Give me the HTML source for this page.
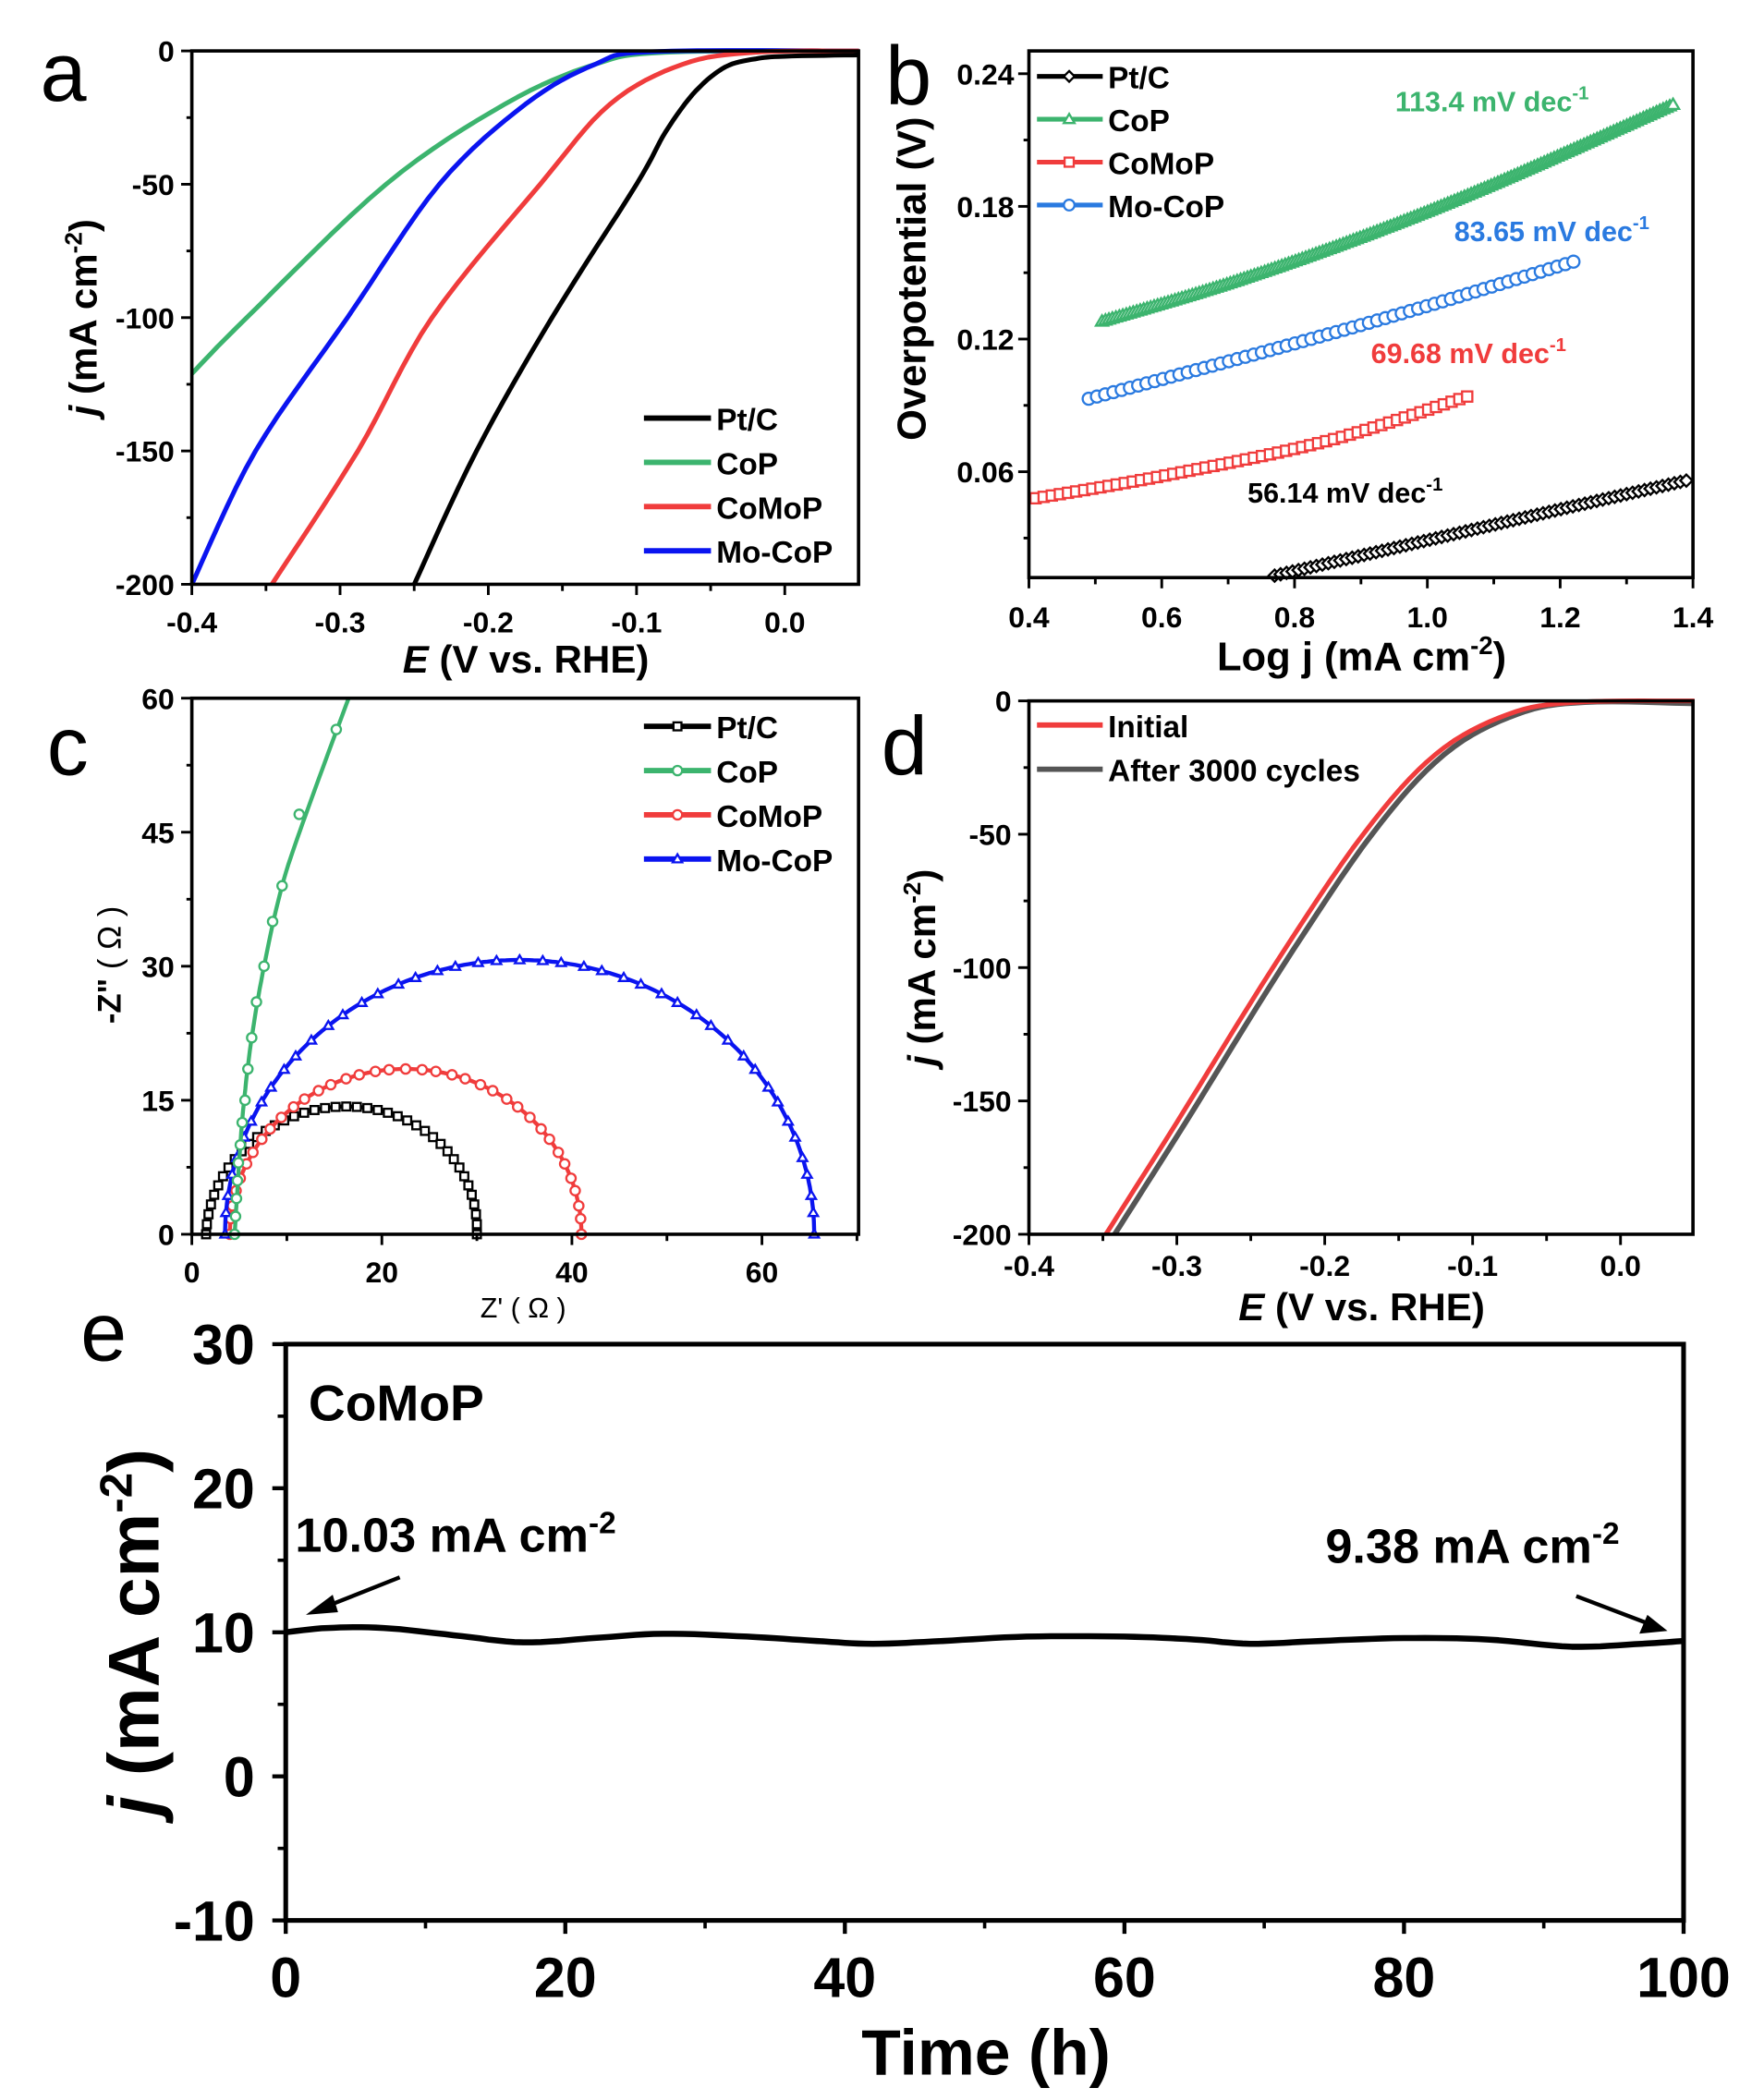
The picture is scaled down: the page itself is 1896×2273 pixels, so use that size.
<!DOCTYPE html>
<html><head><meta charset="utf-8"><style>
html,body{margin:0;padding:0;background:#fff}
svg{display:block}
text{font-family:"Liberation Sans",Arial,sans-serif}
</style></head><body>
<svg id="s" width="1896" height="2273" viewBox="0 0 1306 1567" preserveAspectRatio="none" xmlns="http://www.w3.org/2000/svg">
<rect width="1306" height="1567" fill="#fff"/>
<g id="g"></g>
</svg>
<script>
const NS="http://www.w3.org/2000/svg",G=document.getElementById('g');
function el(t,a,txt){const e=document.createElementNS(NS,t);for(const k in a)e.setAttribute(k,a[k]);if(txt!==undefined)e.textContent=txt;G.appendChild(e);return e;}
function txt(x,y,s,size,opt={}){return el('text',Object.assign({x:x,y:y,'font-size':size,'font-weight':opt.w||'bold','text-anchor':opt.a||'middle',fill:opt.f||'#000'},opt.t?{transform:opt.t}:{}),s);}
function line(x1,y1,x2,y2,c,w){el('line',{x1,y1,x2,y2,stroke:c||'#000','stroke-width':w||2});}
function path(pts,c,w){el('path',{d:'M'+pts.map(p=>p[0].toFixed(1)+','+p[1].toFixed(1)).join('L'),fill:'none',stroke:c,'stroke-width':w,'stroke-linejoin':'round'});}
function interp(pts,n){
 const out=[];for(let i=0;i<pts.length-1;i++){const p0=pts[Math.max(i-1,0)],p1=pts[i],p2=pts[i+1],p3=pts[Math.min(i+2,pts.length-1)];
 for(let k=0;k<n;k++){const t=k/n,t2=t*t,t3=t2*t;const f=(a,b,c,d)=>0.5*((2*b)+(-a+c)*t+(2*a-5*b+4*c-d)*t2+(-a+3*b-3*c+d)*t3);out.push([f(p0[0],p1[0],p2[0],p3[0]),f(p0[1],p1[1],p2[1],p3[1])]);}}
 out.push(pts[pts.length-1]);return out;}
function frame(x0,y0,x1,y1){el('rect',{x:x0,y:y0,width:x1-x0,height:y1-y0,fill:'none',stroke:'#000','stroke-width':2.5});}
function mark(m,x,y,c,r){const a={fill:'#fff',stroke:c,'stroke-width':1.6};
 if(m=='circ')el('circle',Object.assign({cx:x,cy:y,r:r},a));
 else if(m=='sq')el('rect',Object.assign({x:x-r*0.85,y:y-r*0.85,width:r*1.7,height:r*1.7},a));
 else if(m=='tri')el('polygon',Object.assign({points:`${x},${y-r} ${x-r},${y+r*0.7} ${x+r},${y+r*0.7}`},a));
 else el('polygon',Object.assign({points:`${x},${y-r} ${x+r},${y} ${x},${y+r} ${x-r},${y}`},a));}

// ---------- Panel a ----------
{const X=E=>143+(E+0.4)*1105,Y=j=>38-j*1.99;
 const cl=s=>s.map(p=>[X(p[0]),Y(p[1])]);
 const draw=(d,c)=>{path(interp(cl(d),8).filter(p=>p[1]<=436&&p[0]>=143),c,3.5);};
 draw([[-0.4,-121],[-0.363,-100],[-0.269,-50],[-0.189,-20],[-0.128,-5],[-0.08,-0.5],[0.05,0]],'#3cb46e');
 draw([[-0.4,-200],[-0.357,-150],[-0.295,-100],[-0.233,-50],[-0.175,-20],[-0.128,-5],[-0.09,-0.3],[0.05,0]],'#0a14f0');
 draw([[-0.346,-200],[-0.288,-150],[-0.238,-100],[-0.165,-50],[-0.118,-20],[-0.069,-5],[-0.02,-0.5],[0.05,0]],'#f03c3c');
 draw([[-0.25,-200],[-0.208,-150],[-0.157,-100],[-0.1,-50],[-0.08,-30],[-0.06,-15],[-0.04,-6],[-0.02,-3],[0.0,-2],[0.05,-1.5]],'#000');
 frame(143,38,640,436);
 for(let i=0;i<=4;i++){const x=X(-0.4+i*0.1);line(x,436,x,444);txt(x,472,(i==4?'0.0':(-0.4+i*0.1).toFixed(1)),22);}
 for(let i=0;i<4;i++){const x=X(-0.35+i*0.1);line(x,436,x,441);}
 [0,-50,-100,-150,-200].forEach(v=>{const y=Y(v);line(135,y,143,y);txt(130,y+8,String(v),22,{a:'end'});});
 [-25,-75,-125,-175].forEach(v=>{const y=Y(v);line(139,y,143,y);});
 el('text',{x:392,y:502,'font-size':29,'font-weight':'bold','text-anchor':'middle'}).innerHTML='<tspan font-style="italic">E</tspan> (V vs. RHE)';
 el('text',{x:0,y:0,'font-size':29,'font-weight':'bold','text-anchor':'middle',transform:'translate(72,237) rotate(-90)'}).innerHTML='<tspan font-style="italic">j</tspan> (mA cm<tspan font-size="18" dy="-11">-2</tspan><tspan dy="11">)</tspan>';
 txt(30,75,'a',62,{w:'normal',a:'start'});
 [['Pt/C','#000'],['CoP','#3cb46e'],['CoMoP','#f03c3c'],['Mo-CoP','#0a14f0']].forEach((l,i)=>{const y=312+i*33;line(480,y,530,y,l[1],4);txt(534,y+9,l[0],23,{a:'start'});});
}
// ---------- Panel b ----------
{const X=L=>767+(L-0.4)*495,Y=v=>55+(0.24-v)*1650;
 const series=[
  {c:'#3cb46e',m:'tri',pts:[[0.51,0.128],[0.7,0.145],[0.9,0.166],[1.1,0.19],[1.37,0.226]],n:170},
  {c:'#2a7ae0',m:'circ',pts:[[0.49,0.093],[0.8,0.118],[1.0,0.135],[1.22,0.155]],n:60},
  {c:'#f03c3c',m:'sq',pts:[[0.41,0.048],[0.6,0.058],[0.85,0.074],[1.06,0.094]],n:55},
  {c:'#000',m:'dia',pts:[[0.77,0.013],[1.0,0.029],[1.2,0.043],[1.39,0.056]],n:70}];
 series.forEach(s=>{const P=interp(s.pts.map(p=>[X(p[0]),Y(p[1])]),30);path(P,s.c,2);
  let len=[0];for(let i=1;i<P.length;i++)len.push(len[i-1]+Math.hypot(P[i][0]-P[i-1][0],P[i][1]-P[i-1][1]));
  const T=len[len.length-1];let j=0;
  for(let k=0;k<s.n;k++){const d=T*k/(s.n-1);while(j<P.length-2&&len[j+1]<d)j++;const f=(d-len[j])/((len[j+1]-len[j])||1);const x=P[j][0]+(P[j+1][0]-P[j][0])*f,y=P[j][1]+(P[j+1][1]-P[j][1])*f;mark(s.m,x,y,s.c,4.5);}
 });
 frame(767,38,1262,431);
 for(let i=0;i<=5;i++){const x=X(0.4+i*0.2);line(x,431,x,439);txt(x,468,(0.4+i*0.2).toFixed(1),22);}
 for(let i=0;i<5;i++){const x=X(0.5+i*0.2);line(x,431,x,436);}
 [0.24,0.18,0.12,0.06].forEach(v=>{const y=Y(v);line(759,y,767,y);txt(756,y+8,v.toFixed(2),22,{a:'end'});});
 [0.21,0.15,0.09,0.03].forEach(v=>{const y=Y(v);line(763,y,767,y);});
 el('text',{x:1015,y:500,'font-size':30,'font-weight':'bold','text-anchor':'middle'}).innerHTML='Log j (mA cm<tspan font-size="19" dy="-12">-2</tspan><tspan dy="12">)</tspan>';
 txt(0,0,'Overpotential (V)',30,{t:'translate(690,208) rotate(-90)'});
 txt(660,78,'b',62,{w:'normal',a:'start'});
 const lab=(x,y,s,c)=>{el('text',{x,y,'font-size':21,'font-weight':'bold','text-anchor':'start',fill:c}).innerHTML=s+' mV dec<tspan font-size="14" dy="-9">-1</tspan>';};
 lab(1040,83,'113.4','#3cb46e');lab(1084,180,'83.65','#2a7ae0');lab(1022,271,'69.68','#f03c3c');lab(930,375,'56.14','#000');
 [['Pt/C','#000','dia'],['CoP','#3cb46e','tri'],['CoMoP','#f03c3c','sq'],['Mo-CoP','#2a7ae0','circ']].forEach((l,i)=>{const y=57+i*32;line(773,y,822,y,l[1],3.5);mark(l[2],797,y,l[1],4);txt(826,y+9,l[0],23,{a:'start'});});
}
// ---------- Panel c ----------
{const X=z=>143+z*7.083,Y=v=>921-v*6.667;
 const arc=(x0,x1,h,n,skew)=>{const cx=(x0+x1)/2,rx=(x1-x0)/2,o=[];for(let i=0;i<=n;i++){const t=Math.PI*(1-i/n);o.push([X(cx+rx*Math.cos(t)+skew*Math.sin(t)),Y(h*Math.sin(t))]);}return o;};
 const sets=[[1.5,30,14.3,'#000','sq',40,0.5],[4,41,18.5,'#f03c3c','circ',36,0],[3.5,65.5,30.7,'#0a14f0','tri',44,0]];
 sets.forEach(s=>{const P=arc(s[0],s[1],s[2],200,s[6]);path(P,s[3],3);
  for(let i=0;i<=s[5];i++){const k=Math.round(200*i/s[5]);mark(s[4],P[k][0],P[k][1],s[3],3.5);}});
 const cop=[[4.5,0],[4.8,5],[5.1,10],[5.5,15],[6.3,22],[7.6,30],[9.5,39],[12,47],[16.5,60]];
 path(interp(cop.map(p=>[X(p[0]),Y(p[1])]),10),'#3cb46e',3);
 [[4.5,0],[4.6,2],[4.7,4],[4.8,6],[4.9,8],[5.1,10],[5.3,12.5],[5.6,15],[5.9,18.5],[6.3,22],[6.8,26],[7.6,30],[8.5,35],[9.5,39],[11.3,47],[15.2,56.5]].forEach(p=>mark('circ',X(p[0]),Y(p[1]),'#3cb46e',3.5));
 frame(143,521,640,921);
 [0,20,40,60].forEach(v=>{const x=X(v);line(x,921,x,929);txt(x,957,String(v),22);});
 [10,30,50,70].forEach(v=>{const x=X(v);line(x,921,x,926);});
 [0,15,30,45,60].forEach(v=>{const y=Y(v);line(135,y,143,y);txt(130,y+8,String(v),22,{a:'end'});});
 [7.5,22.5,37.5,52.5].forEach(v=>{const y=Y(v);line(139,y,143,y);});
 txt(390,983,"Z' ( Ω )",21,{w:'normal'});
 el('text',{x:0,y:0,'font-size':24,'text-anchor':'middle',transform:'translate(90,720) rotate(-90)'}).innerHTML='<tspan font-weight="bold">-Z"</tspan> ( Ω )';
 txt(35,578,'c',62,{w:'normal',a:'start'});
 [['Pt/C','#000','sq'],['CoP','#3cb46e','circ'],['CoMoP','#f03c3c','circ'],['Mo-CoP','#0a14f0','tri']].forEach((l,i)=>{const y=542+i*33;line(480,y,530,y,l[1],4);mark(l[2],505,y,l[1],3.5);txt(534,y+9,l[0],23,{a:'start'});});
}
// ---------- Panel d ----------
{const X=E=>767+(E+0.4)*1102.5,Y=j=>523-j*1.99;
 const ini=[[-0.348,-200],[-0.3,-158],[-0.235,-100],[-0.174,-50],[-0.125,-20],[-0.076,-5],[-0.03,-0.5],[0.05,0]];
 const aft=ini.map(p=>[p[0]+0.006,p[1]]);aft[aft.length-1]=[0.05,-1];
 path(interp(aft.map(p=>[X(p[0]),Y(p[1])]),8).filter(p=>p[1]<=921),'#555',4);
 path(interp(ini.map(p=>[X(p[0]),Y(p[1])]),8).filter(p=>p[1]<=921),'#f03c3c',3.5);
 frame(767,523,1262,921);
 for(let i=0;i<=4;i++){const x=X(-0.4+i*0.1);line(x,921,x,929);txt(x,952,(i==4?'0.0':(-0.4+i*0.1).toFixed(1)),22);}
 for(let i=0;i<4;i++){const x=X(-0.35+i*0.1);line(x,921,x,926);}
 [0,-50,-100,-150,-200].forEach(v=>{const y=Y(v);line(759,y,767,y);txt(754,y+8,String(v),22,{a:'end'});});
 [-25,-75,-125,-175].forEach(v=>{const y=Y(v);line(763,y,767,y);});
 el('text',{x:1015,y:985,'font-size':29,'font-weight':'bold','text-anchor':'middle'}).innerHTML='<tspan font-style="italic">E</tspan> (V vs. RHE)';
 el('text',{x:0,y:0,'font-size':29,'font-weight':'bold','text-anchor':'middle',transform:'translate(697,722) rotate(-90)'}).innerHTML='<tspan font-style="italic">j</tspan> (mA cm<tspan font-size="18" dy="-11">-2</tspan><tspan dy="11">)</tspan>';
 txt(657,578,'d',62,{w:'normal',a:'start'});
 line(773,541,822,541,'#f03c3c',4);txt(826,550,'Initial',23,{a:'start'});
 line(773,574,822,574,'#555',4);txt(826,583,'After 3000 cycles',23,{a:'start'});
}
// ---------- Panel e ----------
{const X=t=>213+t*10.42,Y=j=>1003+(30-j)*10.75;
 const d=[[0,10],[3,10.3],[7,10.3],[12,9.8],[17,9.3],[22,9.6],[27,9.9],[33,9.7],[38,9.4],[42,9.2],[47,9.4],[53,9.7],[60,9.7],[65,9.5],[69,9.2],[74,9.4],[80,9.6],[86,9.5],[92,9.0],[97,9.2],[100,9.4]];
 path(interp(d.map(p=>[X(p[0]),Y(p[1])]),8),'#000',4.5);
 el('rect',{x:213,y:1003,width:1042,height:430,fill:'none',stroke:'#000','stroke-width':3.5});
 [0,20,40,60,80,100].forEach(v=>{const x=X(v);line(x,1433,x,1443,'#000',3);txt(x,1490,String(v),42);});
 [10,30,50,70,90].forEach(v=>{const x=X(v);line(x,1433,x,1439,'#000',2.5);});
 [30,20,10,0,-10].forEach(v=>{const y=Y(v);line(203,y,213,y,'#000',3);txt(190,y+15,String(v),42,{a:'end'});});
 [25,15,5,-5].forEach(v=>{const y=Y(v);line(207,y,213,y,'#000',2.5);});
 txt(735,1548,'Time (h)',48);
 el('text',{x:0,y:0,'font-size':54,'font-weight':'bold','text-anchor':'middle',transform:'translate(118,1218) rotate(-90)'}).innerHTML='<tspan font-style="italic">j</tspan> (mA cm<tspan font-size="34" dy="-20">-2</tspan><tspan dy="20">)</tspan>';
 txt(60,1015,'e',62,{w:'normal',a:'start'});
 txt(230,1060,'CoMoP',38,{a:'start'});
 el('text',{x:220,y:1158,'font-size':36,'font-weight':'bold'}).innerHTML='10.03 mA cm<tspan font-size="23" dy="-14">-2</tspan>';
 el('text',{x:988,y:1166,'font-size':36,'font-weight':'bold'}).innerHTML='9.38 mA cm<tspan font-size="23" dy="-14">-2</tspan>';
 line(298,1177,240,1200,'#000',3);el('polygon',{points:'228,1205 248,1190 252,1203',fill:'#000'});
 line(1175,1191,1230,1212,'#000',3);el('polygon',{points:'1243,1217 1222,1219 1228,1205',fill:'#000'});
}
</script>
</body></html>
